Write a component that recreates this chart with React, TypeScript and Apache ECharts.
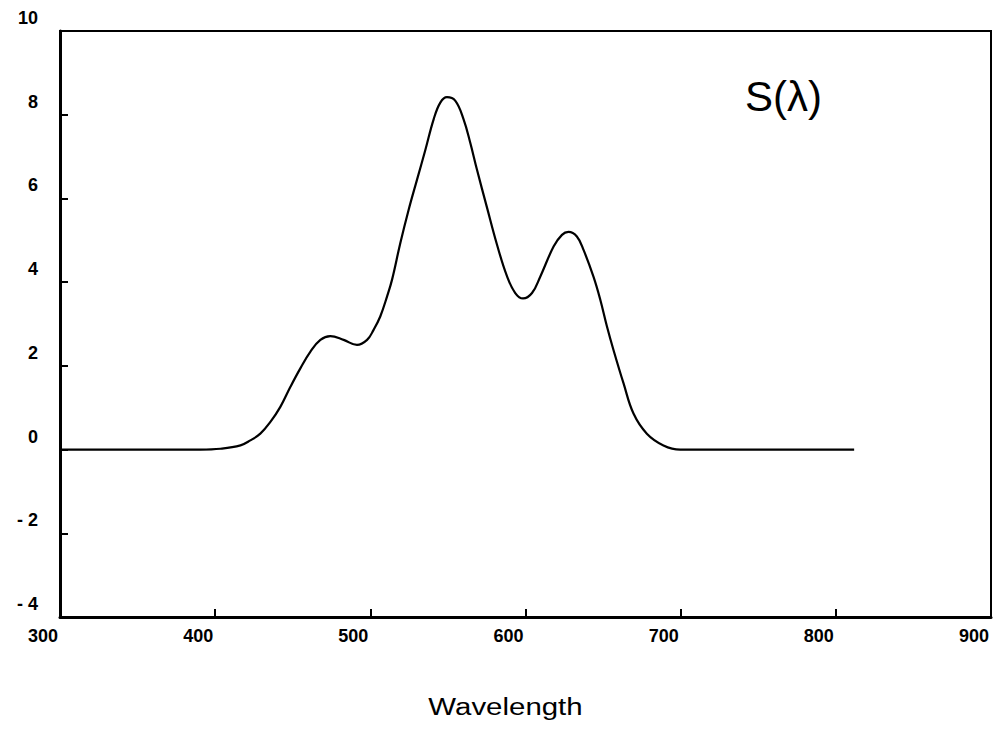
import React, { useEffect, useRef } from "react";
import * as echarts from "echarts";

const wavelengths = [
  300, 390.5, 403.4, 416.3, 422.7, 429.1, 435.6, 442.0, 448.5, 454.9, 461.4, 467.8, 474.2,
  482.8, 491.4, 497.9, 502.1, 506.4, 510.8, 514.0, 519.3, 524.7, 530.1, 535.4, 540.8, 545.1,
  549.4, 554.8, 560.1, 564.4, 568.7, 575.2, 581.6, 588.0, 593.4, 598.4, 604.2, 609.5, 618.1,
  623.5, 627.7, 633.1, 637.4, 643.8, 648.2, 652.5, 656.7, 663.2, 669.6, 678.2, 688.9, 699.7,
  811.8,
];
const sValues = [
  0, 0, 0.02, 0.1, 0.22, 0.38, 0.66, 1.02, 1.5, 1.94, 2.34, 2.62, 2.71,
  2.62, 2.5, 2.62, 2.86, 3.18, 3.66, 4.06, 4.93, 5.73, 6.45, 7.15, 7.89, 8.29,
  8.42, 8.33, 7.89, 7.33, 6.69, 5.78, 4.9, 4.15, 3.74, 3.61, 3.74, 4.13, 4.85,
  5.13, 5.2, 5.09, 4.77, 4.13, 3.58, 2.94, 2.38, 1.58, 0.86, 0.38, 0.1, 0,
  0,
];
const xTicks = { min: 300, max: 900, interval: 100 };
const yTicks = { min: -4, max: 10, interval: 2 };
const xTitle = "Wavelength";
const curveLabel = "S(λ)";

const FONT = "Liberation Sans, Arial, sans-serif";

export default function App() {
  const ref = useRef<HTMLDivElement>(null);
  useEffect(() => {
    if (!ref.current) return;
    const chart = echarts.init(ref.current, null, { renderer: "svg" });
    const data = wavelengths.map((w, i) => [w, sValues[i]]);
    chart.setOption({
      animation: false,
      backgroundColor: "#fff",
      grid: {
        left: 60,
        right: 3,
        top: 31,
        bottom: 114,
        containLabel: false,
        outerBoundsMode: "none",
        show: true,
        borderColor: "#000",
        borderWidth: 2,
        backgroundColor: "transparent",
      },
      xAxis: {
        type: "value",
        min: xTicks.min,
        max: xTicks.max,
        interval: xTicks.interval,
        splitLine: { show: false },
        axisLine: { show: true, onZero: false, lineStyle: { color: "#000", width: 3 } },
        axisTick: { show: true, inside: true, length: 8, lineStyle: { color: "#000", width: 2 } },
        axisLabel: {
          color: "#000",
          fontFamily: FONT,
          fontSize: 18,
          fontWeight: "bold",
          margin: 10,
          padding: [0, 34, 0, 0],
        },
      },
      yAxis: {
        type: "value",
        min: yTicks.min,
        max: yTicks.max,
        interval: yTicks.interval,
        splitLine: { show: false },
        axisLine: { show: true, onZero: false, lineStyle: { color: "#000", width: 3 } },
        axisTick: { show: true, inside: true, length: 8, lineStyle: { color: "#000", width: 2 } },
        axisLabel: {
          color: "#000",
          fontFamily: FONT,
          fontSize: 18,
          fontWeight: "bold",
          margin: 22,
          verticalAlign: "bottom",
          lineHeight: 26,
          formatter: (v: number) => (v < 0 ? "- " + Math.abs(v) : String(v)),
        },
      },
      graphic: [
        {
          type: "text",
          x: 505.5,
          y: 707.5,
          scaleX: 1.28,
          style: {
            text: xTitle,
            fontFamily: FONT,
            fontSize: 23,
            fill: "#000",
            align: "center",
            verticalAlign: "middle",
          },
        },
        {
          type: "text",
          x: 745,
          y: 96,
          style: {
            text: curveLabel,
            fontFamily: FONT,
            fontSize: 42,
            fill: "#000",
            align: "left",
            verticalAlign: "middle",
          },
        },
      ],
      series: [
        {
          type: "line",
          data,
          showSymbol: false,
          smooth: 0.4,
          lineStyle: { color: "#000", width: 2.2 },
        },
      ],
    });
    return () => chart.dispose();
  }, []);
  return <div ref={ref} style={{ width: 994, height: 731, position: "absolute", left: 0, top: 0 }} />;
}
